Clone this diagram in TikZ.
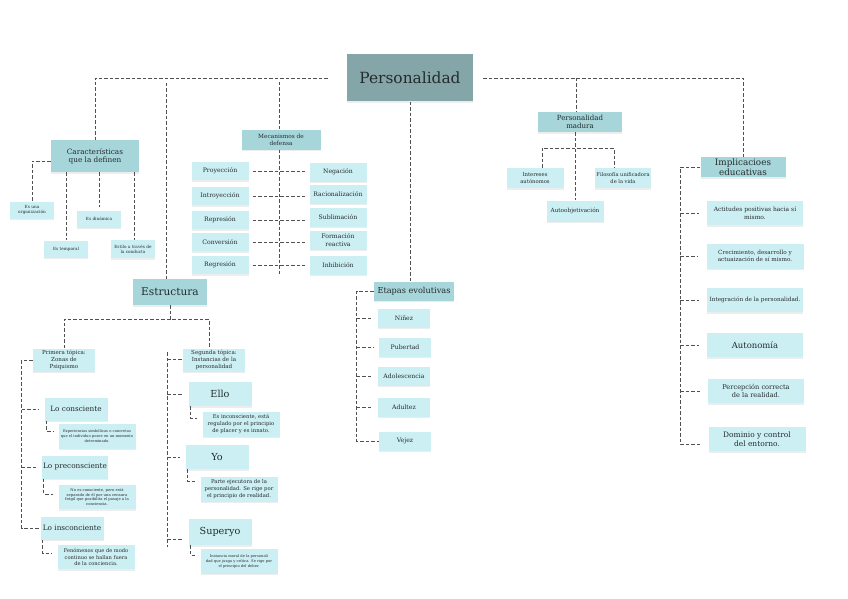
\documentclass[tikz,border=0pt]{standalone}
\usepackage{fontspec}
\setmainfont{DejaVu Serif}[Scale=0.88]
\usepackage{xcolor}
\usepackage{tikz}
\usetikzlibrary{positioning, shadows}

\definecolor{pershead}{HTML}{85A6A8}
\definecolor{tealmid}{HTML}{A6D5DA}
\definecolor{teallite}{HTML}{CCEFF3}
\definecolor{inkgray}{HTML}{252B2C}
\definecolor{linegray}{HTML}{505050}

\newcommand{\fsz}[2]{\fontsize{#1}{#2}\selectfont}

\begin{document}
\begin{tikzpicture}[
  x=1pt, y=-1pt,
  box/.style={rectangle, align=center, inner sep=1pt, text=inkgray,
              drop shadow={opacity=0.14, shadow xshift=0pt, shadow yshift=-1.5pt}},
  head/.style={box, fill=pershead},
  mid/.style={box, fill=tealmid},
  lite/.style={box, fill=teallite},
  mech/.style={lite, minimum width=57pt, minimum height=18pt, font=\fsz{7}{7.5}},
  trait/.style={lite, minimum width=44pt, minimum height=17pt, font=\fsz{4.8}{5.2}},
  stage/.style={lite, minimum width=52pt, minimum height=19pt, font=\fsz{7}{8}},
  zone/.style={lite, minimum width=63pt, minimum height=23pt, font=\fsz{8.3}{9}},
  inst/.style={lite, minimum width=63pt, minimum height=24pt, font=\fsz{11}{12}},
  desc/.style={lite, minimum width=77pt, minimum height=25pt},
  impbox/.style={lite, minimum width=96pt, minimum height=24pt},
  con/.style={draw=linegray, dash pattern=on 3.5pt off 2pt, line width=0.95pt},
  br/.style={con, shorten >=5pt}
]
\fill[white] (0,0) rectangle (848,599);
\useasboundingbox (0,0) rectangle (848,599);

% centre
\node[head, minimum width=126pt, minimum height=47pt, font=\fsz{17.5}{19}] (pers) at (410,78) {Personalidad};

% caracteristicas
\node[mid, minimum width=88pt, minimum height=32pt, font=\fsz{8.3}{8.3}] (carac) at (95,156) {Características\\que la definen};
\node[trait] (org) at (32,210) {Es una\\organización};
\node[trait] (temp) at (66,249) {Es temporal};
\node[trait] (din) at (99,219) {Es dinámica};
\node[trait, minimum height=18pt] (estilo) at (133,249) {Estilo a través de\\la conducta};

% mecanismos de defensa
\node[mid, minimum width=79pt, minimum height=19pt, font=\fsz{6.6}{7}] (mec) at (281,140) {Mecanismos de\\defensa};
\node[mech] (proy) at (220,171) {Proyección};
\node[mech] (intro) at (220,196) {Introyección};
\node[mech] (repr) at (220,220) {Represión};
\node[mech] (conv) at (220,242) {Conversión};
\node[mech] (regr) at (220,265) {Regresión};
\node[mech, minimum height=19pt] (neg) at (338,172) {Negación};
\node[mech, minimum height=19pt] (raci) at (338,194) {Racionalización};
\node[mech, minimum height=19pt] (subl) at (338,217) {Sublimación};
\node[mech, minimum height=19pt] (form) at (338,240) {Formación\\reactiva};
\node[mech, minimum height=19pt] (inhi) at (338,265) {Inhibición};

% estructura
\node[mid, minimum width=74pt, minimum height=26pt, font=\fsz{12}{13}] (estr) at (170,292) {Estructura};
\node[lite, minimum width=62pt, minimum height=23pt, font=\fsz{6.3}{7}] (prim) at (64,360) {Primera tópica:\\Zonas de\\Psiquismo};
\node[lite, minimum width=62pt, minimum height=23pt, font=\fsz{6.3}{7}] (seg) at (214,360) {Segunda tópica:\\Instancias de la\\personalidad};
\node[zone] (lcons) at (76,409) {Lo consciente};
\node[desc, font=\fsz{4.2}{5}] (dcons) at (97,436) {Experiencias simbólicas o concretas\\que el individuo posee en un momento\\determinado.};
\node[zone] (lpre) at (75,467) {Lo preconsciente};
\node[desc, minimum height=24pt, font=\fsz{4.3}{4.9}] (dpre) at (97,497) {No es consciente, pero está\\separado de él por una censura\\frágil que posibilita el pasaje a la\\conciencia.};
\node[zone] (lins) at (72,528) {Lo insconciente};
\node[desc, minimum height=24pt, font=\fsz{5.8}{6.8}] (dins) at (96,557) {Fenómenos que de modo\\continuo se hallan fuera\\de la conciencia.};
\node[inst] (ello) at (220,394) {Ello};
\node[desc, font=\fsz{6}{7}] (dello) at (241,424) {Es inconsciente, está\\regulado por el principio\\de placer y es innato.};
\node[inst] (yo) at (217,457) {Yo};
\node[desc, font=\fsz{6}{7}] (dyo) at (239,489) {Parte ejecutora de la\\personalidad. Se rige por\\el principio de realidad.};
\node[inst, minimum height=26pt] (sup) at (220,532) {Superyo};
\node[desc, font=\fsz{4.2}{5}] (dsup) at (239,561) {Instancia moral de la personali\\dad que juzga y crítica. Se rige por\\el principio del deber.};

% etapas evolutivas
\node[mid, minimum width=80pt, minimum height=19pt, font=\fsz{9.3}{10}] (etap) at (414,291) {Etapas evolutivas};
\node[stage] (nin) at (404,318) {Niñez};
\node[stage] (pub) at (405,347) {Pubertad};
\node[stage] (ado) at (404,376) {Adolescencia};
\node[stage] (adu) at (404,407) {Adultez};
\node[stage] (vej) at (405,441) {Vejez};

% personalidad madura
\node[mid, minimum width=84pt, minimum height=20pt, font=\fsz{8}{8.5}] (mad) at (580,122) {Personalidad\\madura};
\node[lite, minimum width=57pt, minimum height=20pt, font=\fsz{6}{6.6}] (inte) at (535,178) {Intereses\\autónomos};
\node[lite, minimum width=56pt, minimum height=20pt, font=\fsz{5.8}{6.6}] (filo) at (623,178) {Filosofía unificadora\\de la vida};
\node[lite, minimum width=57pt, minimum height=21pt, font=\fsz{6.5}{7}] (auto) at (575,211) {Autoobjetivación};

% implicaciones educativas
\node[mid, minimum width=85pt, minimum height=20pt, font=\fsz{10}{9.5}] (impl) at (743,167) {Implicacioes\\educativas};
\node[impbox, font=\fsz{6.8}{7.5}] (acti) at (755,213) {Actitudes positivas hacia sí\\mismo.};
\node[impbox, minimum width=97pt, minimum height=25pt, font=\fsz{6.5}{7.5}] (crec) at (755,256) {Crecimiento, desarrollo y\\actuaización de sí mismo.};
\node[impbox, font=\fsz{6.5}{7.5}] (integ) at (755,300) {Integración de la personalidad.};
\node[impbox, font=\fsz{9.6}{10}] (auton) at (755,345) {Autonomía};
\node[impbox, font=\fsz{7.5}{8.5}] (perc) at (756,391) {Percepción correcta\\de la realidad.};
\node[impbox, minimum width=97pt, font=\fsz{8.5}{9.5}] (domi) at (757,439) {Dominio y control\\del entorno.};

% connectors from the centre
\draw[con] ([xshift=-19pt]pers.west) -| (carac.north);
\draw[con] ([xshift=-4pt, yshift=-5pt]estr.north |- pers.west) -- ([xshift=-4pt]estr.north);
\draw[con] ([xshift=-2pt, yshift=-4pt]mec.north |- pers.west) -- ([xshift=-2pt]mec.north);
\draw[con] (pers.south) -- (pers.south |- etap.north);
\draw[con] ([xshift=10pt]pers.east) -| (impl.north);
\draw[con] ([xshift=-4pt]mad.north |- pers.east) -- ([xshift=-4pt]mad.north);

% caracteristicas
\draw[con] ([yshift=-5pt]carac.west) -| (org.north);
\draw[con] (carac.south -| temp.north) -- (temp.north);
\draw[con] (carac.south -| din.north) -- ([yshift=3pt]din.north);
\draw[con] ([xshift=1pt]carac.south -| estilo.north) -- ([xshift=1pt]estilo.north);

% mecanismos
\draw[con] ([xshift=-2pt]mec.south) -- ([xshift=-2pt]mec.south |- regr.south);
\foreach \lft/\rgt in {proy/neg, intro/raci, repr/subl, conv/form, regr/inhi}
  \draw[con, shorten <=4pt, shorten >=4pt] (\lft.east) -- (\lft.east -| \rgt.west);

% estructura
\draw[con] (estr.south) -- ([yshift=-14pt]estr.south);
\draw[con] (prim.north) |- ([yshift=-14pt]estr.south) -| ([xshift=-5pt]seg.north);
\draw[con] (prim.west) -- ++(-11,0) coordinate (pv) |- (lins.west);
\draw[br] (pv |- lcons.west) -- (lcons.west);
\draw[br] (pv |- lpre.west) -- (lpre.west);
\draw[br] ([xshift=2pt]lcons.south west) |- ([yshift=5pt]dcons.west);
\draw[br] ([xshift=2pt]lpre.south west) |- ([yshift=3pt]dpre.west);
\draw[br] ([xshift=2pt]lins.south west) |- ([yshift=4pt]dins.west);
\coordinate (sv) at (167,352);
\coordinate (sb) at (167,547);
\draw[con] (sv) -- (sb);
\draw[con] ([yshift=1pt]sv |- seg.west) -- ([yshift=1pt]seg.west);
\draw[br] (sv |- ello.west) -- (ello.west);
\draw[br] (sv |- yo.west) -- (yo.west);
\draw[br] ([yshift=-7pt]sv |- sup.west) -- ([yshift=-7pt]sup.west);
\draw[br] ([xshift=2pt]ello.south west) |- ([yshift=6pt]dello.west);
\draw[br] ([xshift=2pt]yo.south west) |- ([yshift=8pt]dyo.west);
\draw[br] ([xshift=2pt]sup.south west) |- ([yshift=6pt]dsup.west);

% etapas
\draw[con] (etap.west) -- ++(-17,0) coordinate (ev) |- (vej.west);
\foreach \st in {nin, pub, ado, adu}
  \draw[br] (ev |- \st.west) -- (\st.west);

% personalidad madura
\draw[con] (auto.north |- mad.south) -- (auto.north);
\draw[con] ([xshift=7pt]inte.north) |- ([yshift=-16pt]mad.south) -| ([xshift=-9pt]filo.north);

% implicaciones
\draw[con] (impl.west) -- ++(-20,0) coordinate (iv) |- ([xshift=-8pt, yshift=-5pt]domi.west);
\foreach \ib in {acti, crec, integ, auton, perc}
  \draw[con, shorten >=8pt] (iv |- \ib.west) -- (\ib.west);
\end{tikzpicture}
\end{document}
